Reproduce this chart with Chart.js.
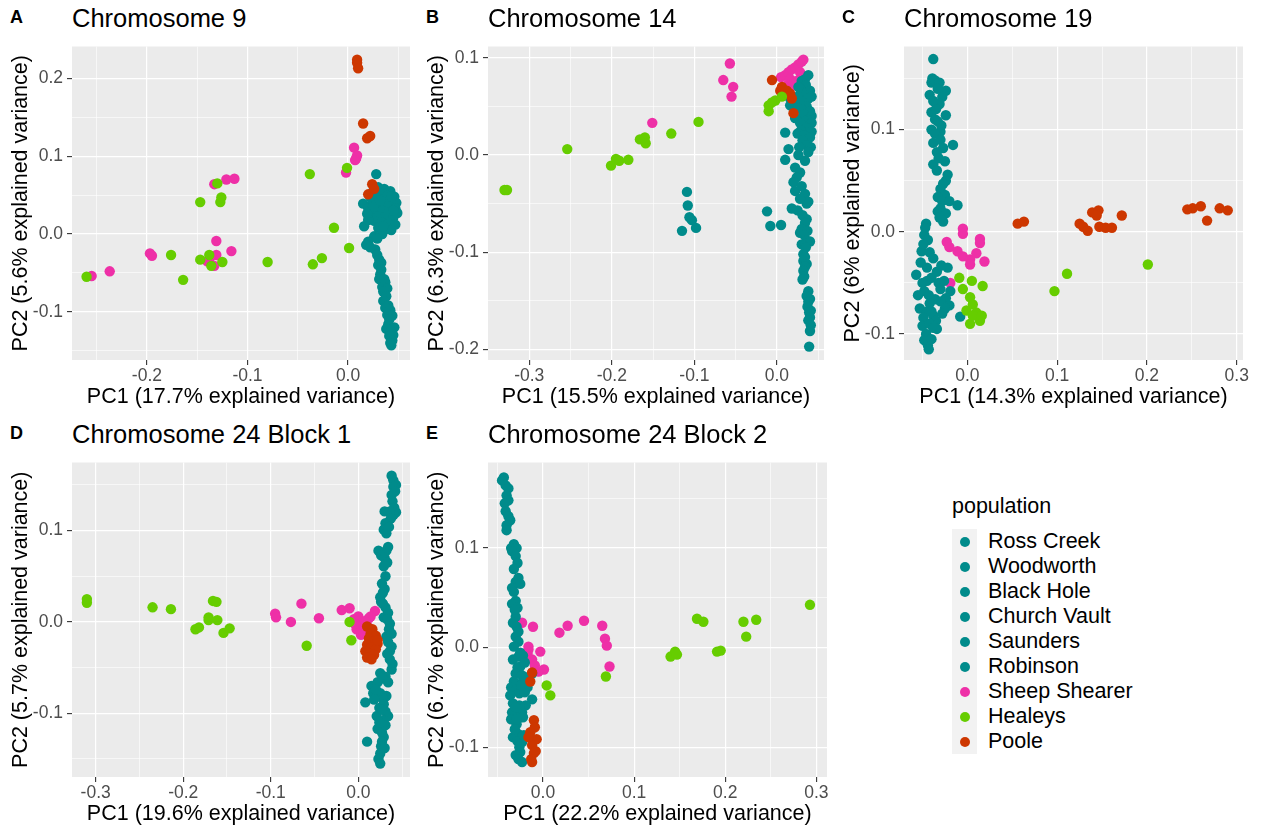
<!DOCTYPE html>
<html>
<head>
<meta charset="utf-8">
<script src="https://cdn.jsdelivr.net/npm/chart.js@4.4.0/dist/chart.umd.min.js"></script>
<style>
  body { margin: 0; background: #fff; font-family: "Liberation Sans", Arial, sans-serif; }
  #fig { position: relative; width: 1269px; height: 829px; overflow: hidden; }
  canvas { position: absolute; }
  .letter { position: absolute; font-weight: bold; font-size: 18px; line-height: 1; color: #000; }
  .title { position: absolute; font-size: 25.5px; line-height: 1; color: #000; white-space: nowrap; }
  .legTitle { position: absolute; left: 952px; top: 496px; font-size: 21.5px; line-height: 1; color: #000; }
  .legKeys { position: absolute; left: 952px; top: 529px; width: 25px; height: 225px; background: #F2F2F2; }
  .legDot { position: absolute; width: 10px; height: 10px; border-radius: 50%; }
  .legText { position: absolute; left: 988px; height: 25px; line-height: 25px; font-size: 21.5px; color: #000; white-space: nowrap; }
</style>
</head>
<body>
<div id="fig"></div>
<script>
// populations shown in the legend; the six teal ones share one colour
const populations = ['Ross Creek', 'Woodworth', 'Black Hole', 'Church Vault', 'Saunders', 'Robinson', 'Sheep Shearer', 'Healeys', 'Poole'];
const popColors = ['#008B8B', '#008B8B', '#008B8B', '#008B8B', '#008B8B', '#008B8B', '#EE30A7', '#66CD00', '#CD3700'];
const teal = '#008B8B', pink = '#EE30A7', green = '#66CD00', orange = '#CD3700';

// ---- Chromosome 9 (PC1, PC2) ----
const chr9Teal = [[0.028,0.077],[0.030,0.060],[0.036,0.058],[0.042,0.055],[0.025,0.055],[0.033,0.052],[0.040,0.050],[0.046,0.048],[0.022,0.048],[0.029,0.046],[0.036,0.045],[0.044,0.043],[0.048,0.040],[0.015,0.039],[0.024,0.040],[0.031,0.038],[0.038,0.037],[0.042,0.035],[0.047,0.033],[0.020,0.033],[0.027,0.031],[0.034,0.030],[0.041,0.028],[0.049,0.027],[0.023,0.025],[0.030,0.023],[0.037,0.022],[0.045,0.021],[0.026,0.017],[0.033,0.015],[0.040,0.013],[0.047,0.012],[0.030,0.008],[0.037,0.006],[0.043,0.005],[0.034,0.000],[0.016,0.010],[0.020,0.018],[0.039,0.041],[0.045,0.030],
  [0.025,0.035],[0.032,0.043],[0.043,0.048],[0.019,0.026],[0.035,0.010],[0.026,-0.003],
  [0.029,-0.006],[0.020,-0.010],[0.018,-0.014],[0.027,-0.020],[0.022,-0.017],[0.029,-0.027],[0.031,-0.033],[0.033,-0.037],[0.030,-0.040],[0.033,-0.046],[0.032,-0.052],[0.031,-0.058],[0.036,-0.058],[0.037,-0.062],[0.034,-0.068],[0.039,-0.070],[0.035,-0.074],[0.038,-0.080],[0.035,-0.086],[0.040,-0.092],[0.037,-0.095],[0.042,-0.098],[0.039,-0.104],[0.044,-0.105],[0.041,-0.110],[0.040,-0.116],[0.046,-0.120],[0.038,-0.122],[0.043,-0.125],[0.045,-0.130],[0.041,-0.131],[0.044,-0.137],[0.042,-0.140],[0.043,-0.143]];
const chr9Pink = [[-0.255,-0.054],[-0.237,-0.048],[-0.197,-0.025],[-0.195,-0.028],[-0.138,-0.033],[-0.133,0.064],[-0.131,-0.009],[-0.131,-0.027],[-0.133,-0.041],[-0.121,0.070],[-0.113,0.071],[-0.116,-0.022],[-0.002,0.079],[0.008,0.097],[0.006,0.111],[0.009,0.101],[0.007,0.095],[-0.140,-0.035]];
const chr9Green = [[-0.260,-0.055],[-0.176,-0.027],[-0.164,-0.059],[-0.147,0.041],[-0.147,-0.033],[-0.138,-0.027],[-0.130,0.065],[-0.136,-0.041],[-0.125,-0.036],[-0.127,0.041],[-0.126,0.047],[-0.080,-0.036],[-0.038,0.077],[-0.035,-0.039],[-0.026,-0.031],[-0.014,0.008],[0.001,-0.018],[-0.001,0.085]];
const chr9Orange = [[0.009,0.224],[0.009,0.220],[0.010,0.213],[0.015,0.142],[0.019,0.123],[0.022,0.126],[0.024,0.064],[0.020,0.051],[0.026,0.058]];
const chr9XMajor = [-0.2, -0.1, 0.0], chr9XMinor = [-0.25, -0.15, -0.05, 0.05];
const chr9YMajor = [-0.1, 0.0, 0.1, 0.2], chr9YMinor = [-0.15, -0.05, 0.05, 0.15];

// ---- Chromosome 14 ----
const chr14Teal = [[0.038,0.082],[0.030,0.076],[0.034,0.078],[0.035,0.072],[0.028,0.068],[0.026,0.070],[0.040,0.066],[0.033,0.062],[0.025,0.060],[0.042,0.060],[0.038,0.058],[0.016,0.058],[0.030,0.055],[0.021,0.053],[0.016,0.051],[0.036,0.050],[0.025,0.048],[0.030,0.047],[0.040,0.045],[0.032,0.042],[0.042,0.040],[0.022,0.038],[0.038,0.036],[0.034,0.035],[0.028,0.033],[0.042,0.033],[0.035,0.028],[0.029,0.025],[0.042,0.024],[0.010,0.023],[0.025,0.022],[0.033,0.020],[0.040,0.018],[0.031,0.015],[0.037,0.010],[0.041,0.008],[0.014,0.006],[0.027,0.008],[0.038,0.003],[0.026,0.000],[0.034,-0.006],[0.010,-0.005],[0.022,-0.013],[0.028,-0.018],[0.024,-0.023],[0.020,-0.028],[0.022,-0.037],[0.030,-0.032],[0.034,-0.040],[0.018,-0.055],[0.036,-0.050],[0.038,-0.048],[0.028,-0.045],[0.025,-0.057],[0.031,-0.062],[0.036,-0.066],[0.034,-0.070],[0.030,-0.076],[0.037,-0.078],[0.028,-0.080],[0.033,-0.082],[0.036,-0.088],[0.040,-0.089],[0.030,-0.092],[0.035,-0.095],[0.032,-0.102],[0.034,-0.105],[0.032,-0.109],[0.036,-0.112],[0.034,-0.115],[0.032,-0.119],[0.033,-0.125],[0.031,-0.128],[0.038,-0.140],[0.036,-0.145],[0.040,-0.148],[0.038,-0.151],[0.037,-0.156],[0.041,-0.160],[0.039,-0.162],[0.040,-0.167],[0.038,-0.170],[0.041,-0.175],[0.040,-0.181],[0.039,-0.197],
  [-0.109,-0.038],[-0.108,-0.052],[-0.106,-0.064],[-0.103,-0.067],[-0.098,-0.075],[-0.115,-0.078],[-0.012,-0.058],[-0.008,-0.073],[0.005,-0.072]];
const chr14Pink = [[-0.151,0.033],[-0.057,0.094],[-0.065,0.077],[-0.053,0.070],[-0.055,0.060],[0.005,0.080],[0.010,0.082],[0.014,0.085],[0.018,0.088],[0.022,0.090],[0.026,0.093],[0.030,0.096],[0.032,0.098],[0.016,0.078],[0.020,0.072],[0.024,0.076],[0.013,0.072],[0.028,0.085],[0.017,0.070]];
const chr14Green = [[-0.330,-0.036],[-0.327,-0.036],[-0.254,0.006],[-0.201,-0.011],[-0.195,-0.004],[-0.191,-0.006],[-0.180,-0.005],[-0.166,0.016],[-0.160,0.018],[-0.159,0.012],[-0.128,0.022],[-0.095,0.034],[-0.010,0.051],[-0.010,0.045],[-0.002,0.056],[0.006,0.060],[-0.006,0.054]];
const chr14Orange = [[-0.006,0.077],[0.006,0.070],[0.008,0.063],[0.016,0.063],[0.020,0.043],[0.012,0.066],[0.018,0.058],[0.004,0.066]];
const chr14XMajor = [-0.3, -0.2, -0.1, 0.0], chr14XMinor = [-0.25, -0.15, -0.05, 0.05];
const chr14YMajor = [-0.2, -0.1, 0.0, 0.1], chr14YMinor = [-0.15, -0.05, 0.05];

// ---- Chromosome 19 ----
const chr19Teal = [[-0.038,0.169],[-0.040,0.146],[-0.039,0.150],[-0.036,0.148],[-0.031,0.146],[-0.024,0.138],[-0.042,0.134],[-0.033,0.140],[-0.028,0.132],[-0.031,0.125],[-0.038,0.128],[-0.024,0.114],[-0.040,0.117],[-0.035,0.120],[-0.036,0.110],[-0.029,0.104],[-0.040,0.100],[-0.030,0.098],[-0.036,0.096],[-0.033,0.108],[-0.016,0.085],[-0.038,0.087],[-0.030,0.090],[-0.027,0.082],[-0.034,0.078],[-0.025,0.069],[-0.038,0.066],[-0.032,0.072],[-0.034,0.060],[-0.022,0.056],[-0.024,0.050],[-0.027,0.047],[-0.030,0.042],[-0.025,0.036],[-0.033,0.034],[-0.028,0.030],[-0.020,0.030],[-0.011,0.026],[-0.030,0.023],[-0.033,0.020],[-0.024,0.018],[-0.027,0.010],[-0.031,0.014],
  [-0.046,0.008],[-0.048,-0.003],[-0.047,0.004],[-0.044,-0.008],[-0.051,-0.019],[-0.049,-0.012],[-0.042,-0.020],[-0.038,-0.026],[-0.022,-0.035],[-0.034,-0.039],[-0.029,-0.033],[-0.045,-0.035],[-0.057,-0.042],[-0.052,-0.030],[-0.040,-0.045],[-0.045,-0.048],[-0.026,-0.048],[-0.032,-0.050],[-0.050,-0.050],[-0.048,-0.058],[-0.036,-0.066],[-0.019,-0.058],[-0.024,-0.065],[-0.030,-0.056],[-0.043,-0.062],[-0.055,-0.062],[-0.042,-0.070],[-0.030,-0.068],[-0.020,-0.072],[-0.025,-0.075],[-0.053,-0.075],[-0.045,-0.078],[-0.049,-0.084],[-0.038,-0.082],[-0.035,-0.087],[-0.040,-0.078],[-0.028,-0.080],[-0.050,-0.092],[-0.042,-0.090],[-0.034,-0.095],[-0.046,-0.100],[-0.038,-0.094],[-0.048,-0.106],[-0.044,-0.111],[-0.040,-0.105],[-0.043,-0.115],[-0.008,-0.083]];
const chr19Pink = [[-0.005,0.003],[-0.005,-0.002],[0.014,-0.007],[0.014,-0.011],[-0.023,-0.010],[-0.020,-0.015],[-0.011,-0.019],[-0.005,-0.024],[0.003,-0.027],[0.010,-0.021],[0.019,-0.029],[0.003,-0.032],[-0.019,-0.050]];
const chr19Green = [[0.097,-0.058],[0.111,-0.041],[0.201,-0.032],[-0.009,-0.045],[0.005,-0.048],[0.017,-0.053],[-0.005,-0.056],[0.003,-0.064],[0.006,-0.071],[-0.001,-0.077],[0.010,-0.079],[0.014,-0.087],[0.003,-0.090],[0.006,-0.082],[0.016,-0.082]];
const chr19Orange = [[0.056,0.008],[0.063,0.010],[0.125,0.008],[0.129,0.005],[0.134,0.001],[0.139,0.019],[0.146,0.021],[0.144,0.016],[0.147,0.005],[0.154,0.004],[0.161,0.004],[0.172,0.016],[0.245,0.022],[0.251,0.023],[0.260,0.025],[0.267,0.011],[0.281,0.023],[0.290,0.021]];
const chr19XMajor = [0.0, 0.1, 0.2, 0.3], chr19XMinor = [-0.05, 0.05, 0.15, 0.25];
const chr19YMajor = [-0.1, 0.0, 0.1], chr19YMinor = [-0.05, 0.05, 0.15];

// ---- Chromosome 24 Block 1 ----
const chr24aTeal = [[0.038,0.160],[0.040,0.155],[0.043,0.150],[0.040,0.148],[0.042,0.143],[0.038,0.139],[0.039,0.132],[0.041,0.125],[0.030,0.121],[0.043,0.120],[0.040,0.117],[0.036,0.121],[0.037,0.113],[0.031,0.108],[0.029,0.101],[0.032,0.097],[0.035,0.104],[0.034,0.082],[0.023,0.078],[0.032,0.078],[0.026,0.073],[0.030,0.070],[0.029,0.061],[0.033,0.065],[0.031,0.050],[0.027,0.042],[0.030,0.036],[0.025,0.027],[0.028,0.032],[0.026,0.022],[0.031,0.016],[0.028,0.020],[0.029,0.005],[0.034,0.010],[0.033,0.003],[0.036,-0.002],[0.032,-0.016],[0.035,-0.008],[0.038,-0.013],[0.038,-0.027],[0.034,-0.022],[0.036,-0.032],[0.036,-0.041],[0.033,-0.035],[0.039,-0.046],[0.038,-0.052],[0.025,-0.056],[0.031,-0.060],[0.028,-0.062],[0.034,-0.066],[0.015,-0.070],[0.022,-0.066],[0.025,-0.078],[0.017,-0.078],[0.020,-0.074],[0.008,-0.088],[0.032,-0.081],[0.028,-0.084],[0.029,-0.090],[0.018,-0.085],[0.024,-0.094],[0.031,-0.098],[0.021,-0.103],[0.034,-0.103],[0.027,-0.096],[0.029,-0.108],[0.022,-0.117],[0.027,-0.121],[0.031,-0.113],[0.029,-0.126],[0.010,-0.131],[0.027,-0.131],[0.026,-0.136],[0.025,-0.144],[0.023,-0.150],[0.025,-0.155],[0.030,-0.138],[0.024,-0.110]];
const chr24aPink = [[-0.095,0.009],[-0.094,0.005],[-0.077,0.000],[-0.065,0.020],[-0.045,0.004],[-0.019,0.013],[-0.010,0.015],[-0.005,0.003],[0.000,0.006],[0.004,-0.002],[-0.002,-0.008],[0.006,-0.010],[0.010,-0.004],[0.003,-0.014],[0.012,0.004],[0.019,0.012],[0.014,0.006],[-0.004,-0.002],[0.008,0.001]];
const chr24aGreen = [[-0.310,0.025],[-0.310,0.021],[-0.235,0.016],[-0.214,0.014],[-0.186,-0.008],[-0.182,-0.006],[-0.171,0.005],[-0.171,0.002],[-0.166,0.023],[-0.162,0.022],[-0.161,0.002],[-0.154,-0.012],[-0.147,-0.007],[-0.059,-0.026],[-0.010,0.000],[-0.008,-0.020]];
const chr24aOrange = [[0.010,-0.005],[0.016,-0.008],[0.014,-0.013],[0.020,-0.015],[0.012,-0.018],[0.018,-0.021],[0.022,-0.024],[0.010,-0.025],[0.015,-0.028],[0.020,-0.030],[0.008,-0.032],[0.013,-0.035],[0.018,-0.036],[0.010,-0.039],[0.015,-0.041],[0.022,-0.020]];
const chr24aXMajor = [-0.3, -0.2, -0.1, 0.0], chr24aXMinor = [-0.25, -0.15, -0.05, 0.05];
const chr24aYMajor = [-0.1, 0.0, 0.1], chr24aYMinor = [-0.15, -0.05, 0.05, 0.15];

// ---- Chromosome 24 Block 2 ----
const chr24bTeal = [[-0.043,0.171],[-0.045,0.168],[-0.041,0.163],[-0.038,0.160],[-0.040,0.153],[-0.038,0.148],[-0.042,0.145],[-0.041,0.137],[-0.038,0.132],[-0.036,0.128],[-0.040,0.123],[-0.040,0.118],[-0.032,0.104],[-0.035,0.100],[-0.029,0.100],[-0.034,0.097],[-0.030,0.092],[-0.028,0.085],[-0.032,0.079],[-0.027,0.070],[-0.030,0.066],[-0.025,0.064],[-0.034,0.060],[-0.032,0.056],[-0.030,0.047],[-0.034,0.044],[-0.028,0.040],[-0.030,0.031],[-0.033,0.025],[-0.029,0.021],[-0.030,0.011],[-0.027,0.006],[-0.032,0.001],[-0.027,-0.009],[-0.033,-0.012],[-0.022,-0.008],[-0.025,-0.019],[-0.028,-0.020],[-0.030,-0.026],[-0.023,-0.028],[-0.018,-0.030],[-0.032,-0.034],[-0.022,-0.034],[-0.035,-0.040],[-0.017,-0.040],[-0.029,-0.042],[-0.026,-0.046],[-0.012,-0.052],[-0.033,-0.056],[-0.019,-0.058],[-0.034,-0.065],[-0.023,-0.065],[-0.035,-0.072],[-0.025,-0.070],[-0.029,-0.077],[-0.022,-0.070],[-0.027,-0.087],[-0.033,-0.090],[-0.028,-0.094],[-0.023,-0.095],[-0.025,-0.105],[-0.030,-0.108],[-0.027,-0.112],[-0.023,-0.115],[-0.012,-0.026],[-0.020,-0.015],[-0.025,-0.005],[-0.027,0.016],[-0.031,0.038],[-0.036,-0.048],[-0.026,-0.058],[-0.030,-0.060],[-0.020,-0.045],[-0.024,-0.038],[-0.031,-0.082],[-0.021,-0.088],[-0.026,-0.100],[-0.029,-0.072]];
const chr24bPink = [[-0.023,0.025],[-0.011,0.021],[0.018,0.015],[0.027,0.022],[0.045,0.027],[0.065,0.022],[0.068,0.009],[0.070,0.002],[0.073,-0.019],[-0.016,-0.002],[-0.003,-0.004],[-0.012,-0.012],[0.001,-0.022],[-0.005,-0.024],[-0.017,-0.006],[-0.009,-0.018],[-0.016,0.001]];
const chr24bGreen = [[0.293,0.043],[0.169,0.029],[0.176,0.026],[0.220,0.026],[0.234,0.028],[0.223,0.011],[0.140,-0.009],[0.145,-0.004],[0.147,-0.007],[0.191,-0.004],[0.195,-0.003],[0.069,-0.029],[0.004,-0.038],[0.008,-0.048]];
const chr24bOrange = [[-0.012,-0.025],[-0.014,-0.034],[-0.010,-0.073],[-0.009,-0.080],[-0.014,-0.085],[-0.007,-0.092],[-0.012,-0.098],[-0.010,-0.106],[-0.012,-0.115],[-0.016,-0.090],[-0.008,-0.104],[-0.013,-0.112]];
const chr24bXMajor = [0.0, 0.1, 0.2, 0.3], chr24bXMinor = [-0.05, 0.05, 0.15, 0.25];
const chr24bYMajor = [-0.1, 0.0, 0.1], chr24bYMinor = [-0.05, 0.05, 0.15];

const FONT = '"Liberation Sans", Arial, sans-serif';

// plot box = [left, top, right, bottom] in page pixels
const panels = [
  { letter: 'A', title: 'Chromosome 9', box: [72, 42, 410, 360], xr: [-0.2745, 0.0616], yr: [-0.162, 0.241],
    xt: 'PC1 (17.7% explained variance)', yt: 'PC2 (5.6% explained variance)',
    xM: chr9XMajor, xm: chr9XMinor, yM: chr9YMajor, ym: chr9YMinor,
    g: chr9Green, o: chr9Orange, t: chr9Teal, p: chr9Pink },
  { letter: 'B', title: 'Chromosome 14', box: [488, 42, 824, 360], xr: [-0.35, 0.057], yr: [-0.2108, 0.1115],
    xt: 'PC1 (15.5% explained variance)', yt: 'PC2 (6.3% explained variance)',
    xM: chr14XMajor, xm: chr14XMinor, yM: chr14YMajor, ym: chr14YMinor,
    g: chr14Green, o: chr14Orange, t: chr14Teal, p: chr14Pink },
  { letter: 'C', title: 'Chromosome 19', box: [904, 42, 1243, 360], xr: [-0.0706, 0.307], yr: [-0.1254, 0.1813],
    xt: 'PC1 (14.3% explained variance)', yt: 'PC2 (6% explained variance)',
    xM: chr19XMajor, xm: chr19XMinor, yM: chr19YMajor, ym: chr19YMinor,
    g: chr19Green, o: chr19Orange, t: chr19Teal, p: chr19Pink },
  { letter: 'D', title: 'Chromosome 24 Block 1', box: [72, 458, 410, 777], xr: [-0.327, 0.059], yr: [-0.1697, 0.1745],
    xt: 'PC1 (19.6% explained variance)', yt: 'PC2 (5.7% explained variance)',
    xM: chr24aXMajor, xm: chr24aXMinor, yM: chr24aYMajor, ym: chr24aYMinor,
    g: chr24aGreen, o: chr24aOrange, t: chr24aTeal, p: chr24aPink },
  { letter: 'E', title: 'Chromosome 24 Block 2', box: [488, 458, 827, 777], xr: [-0.0604, 0.3117], yr: [-0.13, 0.186],
    xt: 'PC1 (22.2% explained variance)', yt: 'PC2 (6.7% explained variance)',
    xM: chr24bXMajor, xm: chr24bXMinor, yM: chr24bYMajor, ym: chr24bYMinor,
    g: chr24bGreen, o: chr24bOrange, t: chr24bTeal, p: chr24bPink }
];

const panelBg = {
  id: 'panelBg',
  beforeDraw(chart) {
    const a = chart.chartArea, c = chart.ctx;
    c.save();
    c.fillStyle = '#EBEBEB';
    c.fillRect(a.left, a.top, a.right - a.left, a.bottom - a.top);
    c.restore();
  }
};

function isMajor(list, v) {
  return list.some(m => Math.abs(m - v) < 1e-9);
}

function axis(major, minor, range, title, horiz) {
  return {
    type: 'linear',
    min: range[0],
    max: range[1],
    bounds: 'data',
    afterBuildTicks: s => { s.ticks = major.concat(minor).sort((a, b) => a - b).map(v => ({ value: v })); },
    afterFit: s => { if (horiz) s.height = 50; else s.width = 72; },
    border: { display: false },
    grid: {
      color: '#FFFFFF',
      lineWidth: c => (c.tick && isMajor(major, c.tick.value)) ? 1.2 : 0.6,
      drawTicks: true,
      tickLength: 5,
      tickWidth: 1.1,
      tickColor: c => (c.tick && isMajor(major, c.tick.value)) ? '#333333' : 'rgba(0,0,0,0)'
    },
    ticks: {
      autoSkip: false,
      maxRotation: 0,
      padding: horiz ? 1 : 4,
      color: '#4D4D4D',
      font: { family: FONT, size: 17.5 },
      callback: v => isMajor(major, v) ? v.toFixed(1) : ''
    },
    title: {
      display: true,
      text: title,
      color: '#000000',
      font: { family: FONT, size: 21.5 },
      padding: horiz ? { top: 0, bottom: 0 } : { top: 8, bottom: 0 }
    }
  };
}

function ds(label, pts, color) {
  return {
    label: label,
    data: pts.map(p => ({ x: p[0], y: p[1] })),
    backgroundColor: color,
    borderWidth: 0,
    pointRadius: 5.2,
    pointHoverRadius: 5.2
  };
}

const fig = document.getElementById('fig');

panels.forEach(p => {
  const [l, t, r, b] = p.box;
  const canvas = document.createElement('canvas');
  const cw = (r - l) + 72 + 15, ch = (b - t) + 10 + 50;
  canvas.width = cw; canvas.height = ch;
  canvas.style.left = (l - 72) + 'px';
  canvas.style.top = (t - 10) + 'px';
  canvas.style.width = cw + 'px';
  canvas.style.height = ch + 'px';
  fig.appendChild(canvas);

  const letter = document.createElement('div');
  letter.className = 'letter';
  letter.textContent = p.letter;
  letter.style.left = (l - 62) + 'px';
  letter.style.top = (t - 34) + 'px';
  fig.appendChild(letter);

  const title = document.createElement('div');
  title.className = 'title';
  title.textContent = p.title;
  title.style.left = l + 'px';
  title.style.top = (t - 35.7) + 'px';
  fig.appendChild(title);

  new Chart(canvas, {
    type: 'scatter',
    data: {
      datasets: [
        ds('Healeys', p.g, green),
        ds('Poole', p.o, orange),
        ds(populations.slice(0, 6).join(', '), p.t, teal),
        ds('Sheep Shearer', p.p, pink)
      ]
    },
    options: {
      responsive: false,
      animation: false,
      layout: { padding: { top: 10, right: 15, left: 0, bottom: 0 } },
      plugins: { legend: { display: false }, tooltip: { enabled: false } },
      scales: {
        x: axis(p.xM, p.xm, p.xr, p.xt, true),
        y: axis(p.yM, p.ym, p.yr, p.yt, false)
      }
    },
    plugins: [panelBg]
  });
});

// legend
const legTitle = document.createElement('div');
legTitle.className = 'legTitle';
legTitle.textContent = 'population';
fig.appendChild(legTitle);
const keys = document.createElement('div');
keys.className = 'legKeys';
fig.appendChild(keys);
populations.forEach((name, i) => {
  const cy = 541.7 + 25 * i;
  const dot = document.createElement('div');
  dot.className = 'legDot';
  dot.style.left = '960px';
  dot.style.top = (cy - 5) + 'px';
  dot.style.background = popColors[i];
  fig.appendChild(dot);
  const txt = document.createElement('div');
  txt.className = 'legText';
  txt.style.top = (cy - 12.5) + 'px';
  txt.textContent = name;
  fig.appendChild(txt);
});
</script>
</body>
</html>
